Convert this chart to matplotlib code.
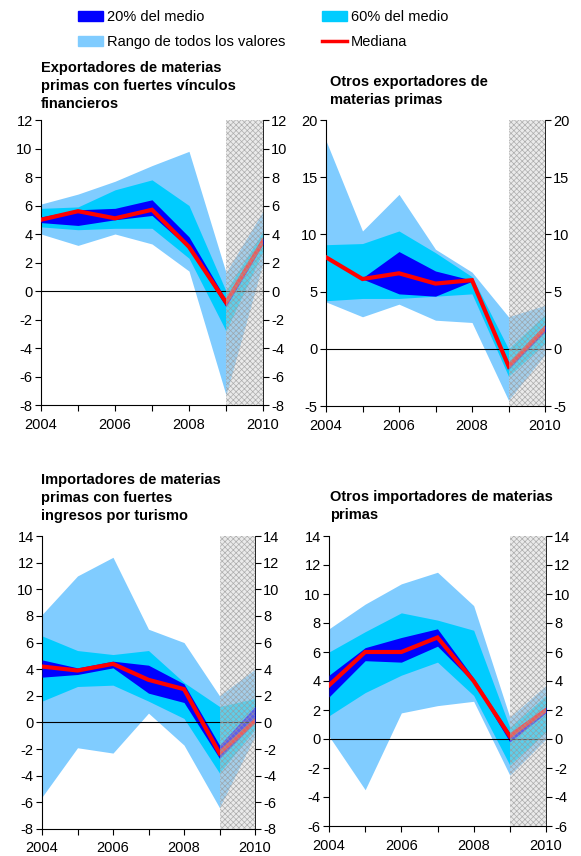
import matplotlib
matplotlib.use("Agg")
import matplotlib.pyplot as plt
from matplotlib.patches import Patch
from matplotlib.lines import Line2D
import numpy as np

plt.rcParams['font.family'] = ['Liberation Sans', 'DejaVu Sans']
plt.rcParams['hatch.linewidth'] = 0.5

years = [2004, 2005, 2006, 2007, 2008, 2009, 2010]

titles = [
    "Exportadores de materias\nprimas con fuertes vínculos\nfinancieros",
    "Otros exportadores de\nmaterias primas",
    "Importadores de materias\nprimas con fuertes\ningresos por turismo",
    "Otros importadores de materias\nprimas",
]

# panel 1
p1_rng_lo = [4.0, 3.2, 4.0, 3.3, 1.4, -7.3, 2.0]
p1_rng_hi = [6.1, 6.8, 7.7, 8.8, 9.8, 1.3, 5.6]
p1_c60_lo = [4.5, 4.3, 4.4, 4.4, 2.3, -2.8, 2.8]
p1_c60_hi = [5.8, 5.9, 7.1, 7.8, 6.0, 0.0, 4.2]
p1_c20_lo = [4.8, 4.6, 5.0, 5.3, 3.0, -1.1, 3.3]
p1_c20_hi = [5.2, 5.7, 5.8, 6.4, 3.8, -0.6, 3.7]
p1_med = [5.0, 5.6, 5.1, 5.7, 3.1, -0.8, 3.5]

# panel 2
p2_rng_lo = [4.1, 2.8, 3.9, 2.5, 2.3, -4.5, -0.5]
p2_rng_hi = [18.2, 10.3, 13.5, 8.7, 6.7, 2.8, 3.8]
p2_c60_lo = [4.2, 4.4, 4.4, 4.6, 4.8, -2.4, 0.5]
p2_c60_hi = [9.1, 9.2, 10.3, 8.4, 6.3, 0.0, 3.0]
p2_c20_lo = [8.0, 6.1, 4.8, 4.6, 5.9, -1.8, 1.5]
p2_c20_hi = [8.0, 6.2, 8.5, 6.8, 6.0, -1.2, 2.0]
p2_med = [8.0, 6.1, 6.6, 5.7, 6.0, -1.5, 1.8]

# panel 3
p3_rng_lo = [-5.6, -1.9, -2.3, 0.7, -1.7, -6.4, -1.0]
p3_rng_hi = [8.1, 11.0, 12.4, 7.0, 6.0, 2.0, 4.0]
p3_c60_lo = [1.6, 2.7, 2.8, 1.6, 0.3, -3.8, -0.5]
p3_c60_hi = [6.5, 5.4, 5.1, 5.4, 3.0, 1.2, 1.8]
p3_c20_lo = [3.4, 3.6, 4.1, 2.2, 1.5, -2.7, 0.0]
p3_c20_hi = [4.7, 4.1, 4.6, 4.3, 2.9, -1.7, 1.2]
p3_med = [4.2, 3.9, 4.4, 3.2, 2.5, -2.3, 0.1]

# panel 4
p4_rng_lo = [0.2, -3.5, 1.8, 2.3, 2.6, -2.5, 0.0]
p4_rng_hi = [7.6, 9.3, 10.7, 11.5, 9.2, 1.5, 3.7]
p4_c60_lo = [1.6, 3.2, 4.4, 5.3, 3.0, -1.8, 0.5]
p4_c60_hi = [6.0, 7.4, 8.7, 8.2, 7.5, 0.8, 3.0]
p4_c20_lo = [2.9, 5.4, 5.3, 6.4, 3.9, -0.2, 1.8]
p4_c20_hi = [4.4, 6.3, 7.0, 7.6, 4.2, 0.4, 2.2]
p4_med = [3.7, 6.0, 6.0, 7.0, 4.0, 0.2, 2.0]

ylims = [(-8, 12, 2), (-5, 20, 5), (-8, 14, 2), (-6, 14, 2)]
xticks = [2004, 2006, 2008, 2010]

panels = [
    (p1_rng_lo, p1_rng_hi, p1_c60_lo, p1_c60_hi, p1_c20_lo, p1_c20_hi, p1_med),
    (p2_rng_lo, p2_rng_hi, p2_c60_lo, p2_c60_hi, p2_c20_lo, p2_c20_hi, p2_med),
    (p3_rng_lo, p3_rng_hi, p3_c60_lo, p3_c60_hi, p3_c20_lo, p3_c20_hi, p3_med),
    (p4_rng_lo, p4_rng_hi, p4_c60_lo, p4_c60_hi, p4_c20_lo, p4_c20_hi, p4_med),
]

C_RNG = '#80ccff'
C_60 = '#00ccff'
C_20 = '#0000ff'
C_MED = '#ff0000'

W, H = 581, 856
fig = plt.figure(figsize=(W / 100, H / 100), dpi=100)

# pixel boxes: left, top, right, bottom
boxes = [(41, 120, 263, 405), (326, 120, 545, 406), (42, 536, 255, 829), (329, 536, 546, 826)]
title_pos = [(41, 61), (330, 75), (41, 473), (330, 490)]

for i, (box, data, yl, title) in enumerate(zip(boxes, panels, ylims, titles)):
    l, t, r, b = box
    ax = fig.add_axes([l / W, 1 - b / H, (r - l) / W, (b - t) / H])
    rlo, rhi, clo, chi, dlo, dhi, med = data
    ax.fill_between(years, rlo, rhi, color=C_RNG, lw=0, zorder=1)
    ax.fill_between(years, clo, chi, color=C_60, lw=0, zorder=2)
    ax.fill_between(years, dlo, dhi, color=C_20, lw=0, zorder=3)
    ax.plot(years, med, color=C_MED, lw=3.0, zorder=4, solid_joinstyle='miter')
    ax.axhline(0, color='black', lw=0.8, zorder=3.5)
    ax.axvspan(2009, 2010, facecolor=(0.82, 0.82, 0.82, 0.45), edgecolor=(0.6, 0.6, 0.6, 0.75),
               hatch='xxxxxx', lw=0, zorder=5)
    ax.set_xlim(2004, 2010)
    ax.set_ylim(yl[0], yl[1])
    yt = np.arange(yl[0], yl[1] + 0.1, yl[2])
    ax.set_yticks(yt)
    ax.set_yticklabels([str(int(v)) for v in yt])
    ax.set_xticks(years, minor=False)
    ax.set_xticklabels([str(y) if y in xticks else '' for y in years])
    ax.tick_params(axis='both', labelsize=10.5, direction='out', length=4, width=0.8, pad=2)
    ax.tick_params(axis='x', pad=5)
    ax.tick_params(axis='y', left=True, right=True, labelleft=True, labelright=True)
    ax.spines['top'].set_visible(False)
    ax.spines['right'].set_linewidth(0.6)
    ax.spines['left'].set_linewidth(0.8)
    ax.spines['bottom'].set_linewidth(0.8)
    tx, ty = title_pos[i]
    fig.text(tx / W, 1 - ty / H, title, ha='left', va='top', fontsize=10.5, fontweight='bold',
             linespacing=1.38)

handles = [Patch(color=C_20, label='20% del medio'),
           Patch(color=C_RNG, label='Rango de todos los valores'),
           Patch(color=C_60, label='60% del medio'),
           Line2D([0], [0], color=C_MED, lw=2.5, label='Mediana')]
fig.legend(handles=handles, ncol=2, loc='upper left', bbox_to_anchor=(78 / W, 1 - 10 / H),
           frameon=False, fontsize=10.5, handlelength=1.7, handleheight=0.7, handletextpad=0.3,
           columnspacing=2.5, labelspacing=0.75, borderaxespad=0, borderpad=0)

fig.savefig('out.png', dpi=100)
